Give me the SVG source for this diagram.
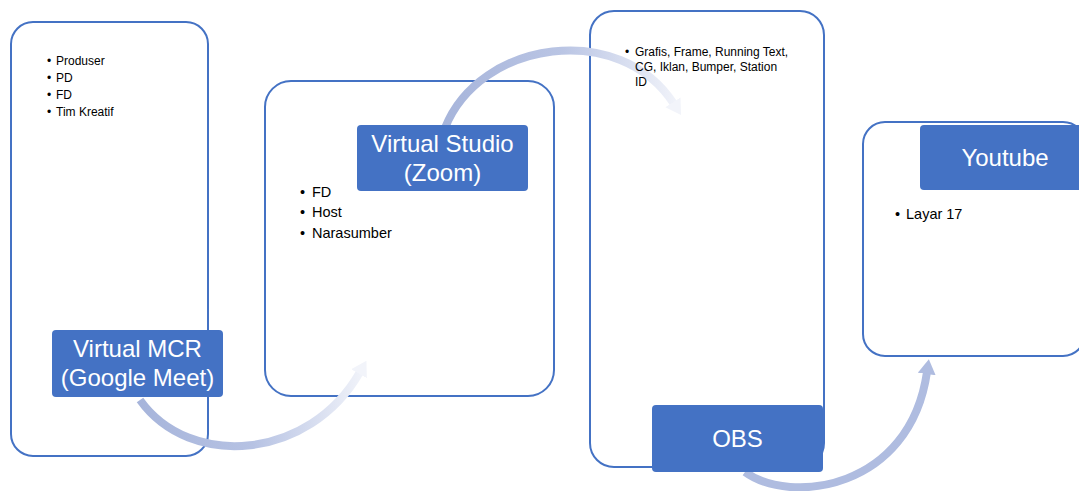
<svg xmlns="http://www.w3.org/2000/svg" width="1079" height="491" viewBox="0 0 1079 491">
<style>
.box{fill:#fff;stroke:#4472C4;stroke-width:2}
.lbl{fill:#4472C4}
.lt{font-family:"Liberation Sans",Arial,sans-serif;font-size:24px;fill:#fff;text-anchor:middle}
.s{font-family:"Liberation Sans",Arial,sans-serif;font-size:12px;fill:#000}
.m{font-family:"Liberation Sans",Arial,sans-serif;font-size:14.5px;fill:#000}
.arr{fill:none;stroke-width:8}
</style>
<defs>
<linearGradient id="g1" gradientUnits="userSpaceOnUse" x1="140" y1="0" x2="365" y2="0">
<stop offset="0" stop-color="#A7B5DB"/><stop offset="0.5" stop-color="#B6C2E3"/><stop offset="1" stop-color="#F2F4FA"/>
</linearGradient>
<linearGradient id="g2" gradientUnits="userSpaceOnUse" x1="445" y1="0" x2="680" y2="0">
<stop offset="0" stop-color="#A7B5DB"/><stop offset="0.5" stop-color="#BAC5E4"/><stop offset="1" stop-color="#F2F4FA"/>
</linearGradient>
<marker id="hLight" markerUnits="userSpaceOnUse" markerWidth="20" markerHeight="20" refX="2" refY="9" orient="auto">
<path d="M0,0 L15,9 L0,18 z" fill="#F2F4FA"/>
</marker>
<marker id="hMid" markerUnits="userSpaceOnUse" markerWidth="20" markerHeight="20" refX="2" refY="9" orient="auto">
<path d="M0,0 L15,9 L0,18 z" fill="#AFBCE0"/>
</marker>
</defs>

<g id="node-mcr"><rect class="box" x="11" y="22" width="197" height="434" rx="22"/></g>
<g id="node-studio"><rect class="box" x="265" y="81" width="289" height="315" rx="26"/></g>
<g id="node-obs"><rect class="box" x="590" y="11" width="234" height="456" rx="24"/></g>
<g id="node-youtube"><rect class="box" x="863" y="122" width="222" height="234" rx="22"/></g>

<g id="connectors">
<path class="arr" d="M140,400 C190,470 310,460 360,372" stroke="url(#g1)" marker-end="url(#hLight)"/>
<path class="arr" d="M445,128 C480,40 620,20 674,104" stroke="url(#g2)" marker-end="url(#hLight)"/>
<path class="arr" d="M745,472 C790,505 910,490 927,372" stroke="#AFBCE0" marker-end="url(#hMid)"/>
</g>

<g id="text-mcr">
<text class="s" x="47" y="65">•</text><text class="s" x="56" y="65">Produser</text>
<text class="s" x="47" y="82">•</text><text class="s" x="56" y="82">PD</text>
<text class="s" x="47" y="99">•</text><text class="s" x="56" y="99">FD</text>
<text class="s" x="47" y="116">•</text><text class="s" x="56" y="116">Tim Kreatif</text>
<rect class="lbl" x="52" y="330" width="171" height="67" rx="4"/>
<text class="lt" x="137.5" y="357">Virtual MCR</text>
<text class="lt" x="137.5" y="386">(Google Meet)</text>
</g>
<g id="text-studio">
<text class="m" x="300" y="197">•</text><text class="m" x="312" y="197">FD</text>
<text class="m" x="300" y="217">•</text><text class="m" x="312" y="217">Host</text>
<text class="m" x="300" y="238">•</text><text class="m" x="312" y="238">Narasumber</text>
<rect class="lbl" x="357" y="125" width="171" height="66" rx="4"/>
<text class="lt" x="442.5" y="152">Virtual Studio</text>
<text class="lt" x="442.5" y="181">(Zoom)</text>
</g>
<g id="text-obs">
<text class="s" x="625" y="56">•</text><text class="s" x="635" y="56">Grafis, Frame, Running Text,</text>
<text class="s" x="635" y="71">CG, Iklan, Bumper, Station</text>
<text class="s" x="635" y="86">ID</text>
<rect class="lbl" x="652" y="405" width="171" height="67" rx="4"/>
<text class="lt" x="737.5" y="447">OBS</text>
</g>
<g id="text-youtube">
<text class="m" x="895" y="219">•</text><text class="m" x="906" y="219">Layar 17</text>
<rect class="lbl" x="920" y="125" width="171" height="65" rx="4"/>
<text class="lt" x="1005" y="166">Youtube</text>
</g>
</svg>
